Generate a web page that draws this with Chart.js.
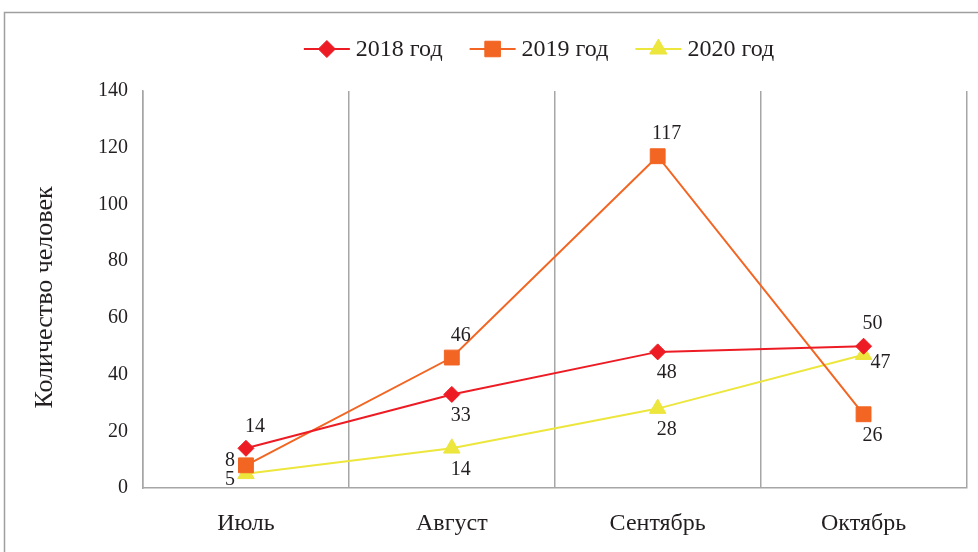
<!DOCTYPE html>
<html>
<head>
<meta charset="utf-8">
<script src="https://cdn.jsdelivr.net/npm/chart.js@4.4.1/dist/chart.umd.min.js"></script>
<style>
  html, body { margin: 0; padding: 0; background: #fff; }
  #wrap { width: 978px; height: 552px; }
</style>
</head>
<body>
<div id="wrap"><canvas id="chart" width="978" height="552"></canvas></div>
<script>
// Data
const months = ['Июль', 'Август', 'Сентябрь', 'Октябрь'];
const seriesNames = ['2018 год', '2019 год', '2020 год'];
const values2018 = [14, 33, 48, 50];
const values2019 = [8, 46, 117, 26];
const values2020 = [5, 14, 28, 47];
const yMin = 0, yMax = 140, yStep = 20;
const yTitle = 'Количество человек';

// where each value label sits relative to its point
const labelPos2018 = ['above', 'below', 'below', 'above'];
const labelPos2019 = ['leftUp', 'above', 'above', 'below'];
const labelPos2020 = ['leftDown', 'below', 'below', 'rightDown'];

const FONT = '"Liberation Serif", "Times New Roman", serif';
const TEXT = '#231f20';
const GRID = '#a6a6a6';

const labelOffsets = {
    above: [9, -22],
    below: [9, 21],
    leftUp: [-16, -5],
    leftDown: [-16, 6],
    rightDown: [17, 8]
};

// outer frame of the figure + y axis title
const framePlugin = {
    id: 'frame',
    beforeDraw(chart) {
        const ctx = chart.ctx;
        ctx.save();
        ctx.fillStyle = '#fff';
        ctx.fillRect(0, 0, chart.width, chart.height);
        ctx.strokeStyle = '#9f9f9f';
        ctx.lineWidth = 1.5;
        ctx.strokeRect(4.5, 12.5, 1000, 1000);
        ctx.restore();
    },
    afterDraw(chart) {
        const ctx = chart.ctx;
        const area = chart.chartArea;
        ctx.save();
        ctx.translate(45, (area.top + area.bottom) / 2 + 8);
        ctx.rotate(-Math.PI / 2);
        ctx.font = '26px ' + FONT;
        ctx.fillStyle = TEXT;
        ctx.textAlign = 'center';
        ctx.textBaseline = 'middle';
        ctx.fillText(yTitle, 0, 0);
        ctx.restore();
    }
};

// value labels next to points
const valueLabels = {
    id: 'valueLabels',
    afterDatasetsDraw(chart) {
        const ctx = chart.ctx;
        ctx.save();
        ctx.font = '20px ' + FONT;
        ctx.fillStyle = TEXT;
        ctx.textAlign = 'center';
        ctx.textBaseline = 'middle';
        chart.data.datasets.forEach((ds, i) => {
            const meta = chart.getDatasetMeta(i);
            meta.data.forEach((pt, j) => {
                const off = labelOffsets[ds.labelPos[j]];
                ctx.fillText(String(ds.data[j]), pt.x + off[0], pt.y + off[1]);
            });
        });
        ctx.restore();
    }
};

// legend: line with marker, like the original
const lineLegend = {
    id: 'lineLegend',
    afterDraw(chart) {
        const ctx = chart.ctx;
        ctx.save();
        ctx.font = '24px ' + FONT;
        const lineLen = 46, gap = 6, itemGap = 27;
        const items = chart.data.datasets.map(ds => ({
            ds: ds,
            w: lineLen + gap + ctx.measureText(ds.label).width
        }));
        const total = items.reduce((a, b) => a + b.w, 0) + itemGap * (items.length - 1);
        let x = 539 - total / 2;
        const y = 49;
        items.forEach(it => {
            ctx.strokeStyle = it.ds.borderColor;
            ctx.lineWidth = 2;
            ctx.beginPath();
            ctx.moveTo(x, y);
            ctx.lineTo(x + lineLen, y);
            ctx.stroke();
            ctx.fillStyle = it.ds.backgroundColor;
            ctx.lineWidth = 1;
            Chart.helpers.drawPoint(ctx, {
                pointStyle: it.ds.pointStyle,
                radius: it.ds.pointRadius + 0.5,
                rotation: 0,
                borderWidth: 1
            }, x + lineLen / 2, y);
            ctx.fillStyle = TEXT;
            ctx.textAlign = 'left';
            ctx.textBaseline = 'middle';
            ctx.fillText(it.ds.label, x + lineLen + gap, y + 1);
            x += it.w + itemGap;
        });
        ctx.restore();
    }
};

const ctx = document.getElementById('chart').getContext('2d');

const chart = new Chart(ctx, {
    type: 'line',
    data: {
        labels: months,
        datasets: [{
            label: seriesNames[0],
            data: values2018,
            labelPos: labelPos2018,
            borderColor: '#ed1c24',
            backgroundColor: '#ed1c24',
            borderWidth: 2,
            pointStyle: 'rectRot',
            pointRadius: 8,
            pointBorderWidth: 1,
            tension: 0
        }, {
            label: seriesNames[1],
            data: values2019,
            labelPos: labelPos2019,
            borderColor: '#f26522',
            backgroundColor: '#f26522',
            borderWidth: 2,
            pointStyle: 'rect',
            pointRadius: 10.5,
            pointBorderWidth: 1,
            tension: 0
        }, {
            label: seriesNames[2],
            data: values2020,
            labelPos: labelPos2020,
            borderColor: '#ece63d',
            backgroundColor: '#ece63d',
            borderWidth: 2,
            pointStyle: 'triangle',
            pointRadius: 9.5,
            pointBorderWidth: 1,
            tension: 0
        }]
    },
    options: {
        responsive: false,
        devicePixelRatio: 1,
        animation: false,
        events: [],
        layout: {
            padding: { top: 91, right: 10, left: 0, bottom: 0 }
        },
        plugins: {
            legend: { display: false },
            tooltip: { enabled: false }
        },
        scales: {
            x: {
                type: 'category',
                offset: true,
                grid: {
                    display: true,
                    offset: true,
                    drawTicks: false,
                    color: GRID,
                    lineWidth: 1.5
                },
                border: { display: true, color: GRID, width: 1.5 },
                ticks: {
                    font: { family: FONT, size: 24 },
                    color: TEXT,
                    padding: 21
                },
                afterFit(scale) { scale.height = 64; }
            },
            y: {
                min: yMin,
                max: yMax,
                ticks: {
                    stepSize: yStep,
                    font: { family: FONT, size: 20 },
                    color: TEXT,
                    padding: 15
                },
                grid: { display: false, drawTicks: false },
                border: { display: true, color: GRID, width: 1.5 },
                afterFit(scale) { scale.width = 143; }
            }
        }
    },
    plugins: [framePlugin, valueLabels, lineLegend]
});
</script>
</body>
</html>
